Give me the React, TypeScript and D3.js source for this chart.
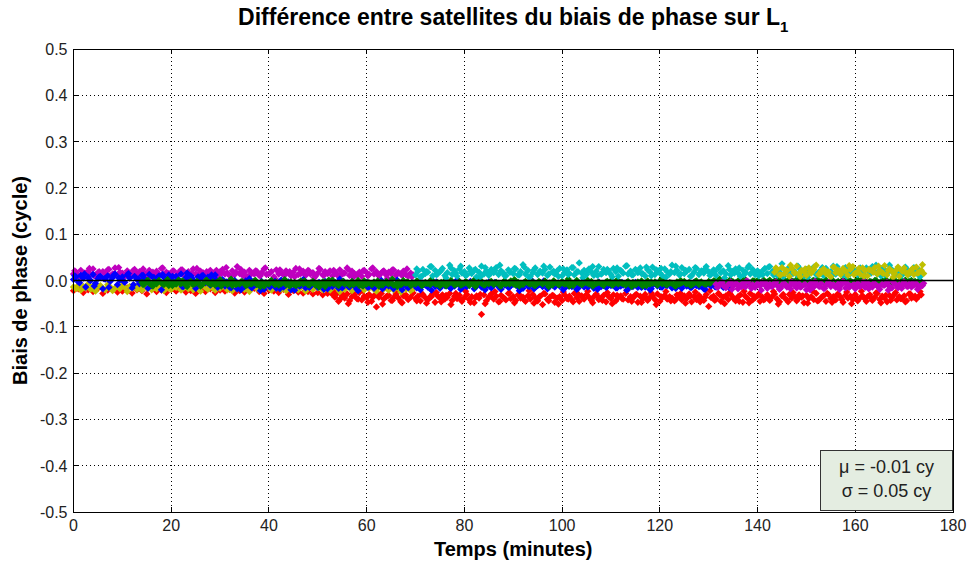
import React from "react";
import * as d3 from "d3";

const W = 971;
const H = 564;
const PLOT = { left: 73.5, right: 953, top: 49, bottom: 512 };

const xTicks = [0, 20, 40, 60, 80, 100, 120, 140, 160, 180];
const yTicks = [-0.5, -0.4, -0.3, -0.2, -0.1, 0, 0.1, 0.2, 0.3, 0.4, 0.5];
const yTickLabels = ["-0.5", "-0.4", "-0.3", "-0.2", "-0.1", "0.0", "0.1", "0.2", "0.3", "0.4", "0.5"];

const titleText = "Différence entre satellites du biais de phase sur L";
const titleSub = "1";
const xLabel = "Temps (minutes)";
const yLabel = "Biais de phase (cycle)";
const statsLines = ["\u03bc = -0.01 cy", "\u03c3 = 0.05 cy"];

// values in thousandths of a cycle; each series: start time (min), sampling step (min)
const magentaA = [
  14,18,11,22,9,16,20,13,25,12,17,8,19,15,23,10,14,27,12,18,
  16,9,21,14,11,24,15,19,7,17,13,22,16,10,20,14,26,12,18,15,
  11,21,9,17,23,13,16,19,10,25,14,12,20,17,8,15,22,13,18,11,
  19,24,14,16,10,21,13,30,15,12,18,9,22,16,14,20,11,17,25,13,
  15,19,8,23,14,17,12,21,16,10,18,26,13,15,20,11,22,14,17,9,
  16,24,12,19,15,21,10,18,13,23,14,16,27,11,20,15,12,18,9,22,
  17,13,25,14,19,10,16,21,12,18,15,23,11,17,14,20,13,9,16,12,
];
const magentaA2 = [
  21,6,16,26,10,19,4,24,13,28,8,17,22,11,25,5,18,14,27,9,
  20,12,23,7,16,26,11,19,5,22,15,28,9,18,24,6,13,21,10,27,
  17,4,23,12,19,8,25,15,20,6,26,11,18,22,9,16,24,7,14,21,
  10,27,13,19,5,23,16,11,25,8,
];
const redEarly = [
  -22,-18,-26,-20,-24,-17,-28,-21,-19,-25,-23,-16,-27,-20,-22,-29,-18,-24,-21,-26,
  -19,-23,-17,-25,-22,-28,-20,-24,-18,-26,-21,-23,-19,-27,-22,-25,-20,-17,-24,-28,
  -21,-23,-26,-19,-30,-22,-25,-27,-24,-29,-26,-31,-28,
];
const redLate = [
  -30,-36,-27,-41,-33,-38,-29,-44,-35,-31,-39,-26,-42,-34,-37,-30,-45,-33,-57,-36,
  -28,-40,-35,-32,-43,-37,-29,-38,-46,-33,-31,-41,-36,-27,-39,-34,-44,-30,-37,-42,
  -35,-29,-47,-33,-38,-31,-40,-36,-28,-43,-34,-39,-32,-45,-37,-30,-41,-35,-48,-33,
  -38,-73,-31,-44,-36,-29,-40,-34,-46,-32,-37,-42,-28,-39,-35,-43,-31,-38,-36,-45,
  -33,-40,-30,-37,-44,-34,-52,-29,-41,-36,-32,-47,-38,-35,-43,-31,-39,-34,-42,-28,
  -37,-45,-33,-40,-30,-36,-43,-35,-29,-41,-38,-32,-46,-34,-39,-31,-44,-36,-33,-40,
  -28,-42,-35,-38,-31,-47,-34,-39,-30,-43,-36,-33,-41,-29,-45,-37,-32,-40,-35,-38,
  -44,-31,-36,-42,-33,-39,-29,-46,-35,-41,-32,-38,-43,-30,-56,-37,-34,-40,-28,-45,
  -36,-33,-41,-30,-38,-44,-35,-31,-47,-34,-39,-28,-42,-37,-33,-45,-36,-40,-31,-43,
  -35,-29,-40,-46,-33,-37,-42,-30,-38,-34,-44,-31,-36,-48,-32,-39,-35,-41,-28,-43,
  -37,-33,-45,-30,-39,-35,-42,-29,-36,-47,-32,-38,-34,-41,-30,-44,-37,-33,-40,-35,
  -31,-43,-36,-28,-41,-34,-38,-46,-32,-37,-30,-42,-35,-39,-33,-44,-29,-38,-36,-40,
  -34,-31,
];
const redLate2 = [
  -24,-45,-31,-50,-27,-40,-22,-47,-36,-29,-51,-33,-43,-25,-48,-38,-21,-44,-30,-49,
  -35,-26,-46,-32,-52,-28,-41,-23,-47,-37,-30,-50,-34,-24,-45,-39,-27,-48,-31,-42,
  -22,-49,-36,-28,-44,-33,-51,-25,-40,-46,-29,-37,-23,-48,-34,-43,-26,-50,-32,-39,
  -21,-45,-30,-47,-38,-27,-52,-35,-24,-44,-41,-28,-49,-33,-25,-46,-36,-22,-43,-31,
  -50,-27,-39,-45,-23,-48,-34,-29,-42,-37,-24,-51,-30,-46,-26,-40,-33,-49,-22,-44,
  -35,-28,-47,-31,-41,-25,-50,-36,-23,-45,-38,-27,-48,-32,-43,-26,-39,-46,-29,-34,
  -24,
];
const yellowA = [
  -14,-18,-10,-21,-13,-16,-8,-19,-12,-23,-15,-11,-17,-20,-9,-14,-22,-16,-12,-18,
  -10,-15,-24,-13,-17,-11,-19,-14,-21,-8,-16,-12,-20,-15,-18,-13,-11,-22,-14,-17,
  -19,-12,-15,-9,-21,-16,-13,-18,-11,-20,-14,-17,-23,-10,-15,-19,-12,-16,-21,-13,
  -17,-11,-14,-20,-16,-22,-12,-18,-15,-10,-19,-13,-24,-16,-11,-17,-20,-14,-18,-12,
  -15,-21,-13,-17,-9,-19,-14,-22,-16,-11,-18,-13,-20,-15,-12,-23,-17,-10,-19,-14,
  -16,-12,-20,-18,-13,-21,-15,-11,-17,-24,-14,-19,-12,-16,-22,-13,-18,-15,-10,-20,
  -14,-17,-11,-19,-23,-15,-13,-18,-16,-21,-12,-20,-14,-17,-25,-13,-19,-15,-22,-18,
];
const blue = [
  2,8,-3,11,5,-14,7,0,13,-6,4,9,-18,3,10,-2,6,14,-9,1,
  8,-4,12,5,-16,9,2,-7,11,4,0,13,-11,6,3,10,-20,7,-1,12,
  5,-8,9,2,14,-13,6,-3,10,1,-17,8,4,11,-5,7,-10,3,12,-15,
  -6,2,-12,-4,-15,-8,0,-18,-10,-3,-13,-7,4,-16,-9,-5,-11,-2,-19,-8,
  -12,-4,-9,-17,-6,1,-14,-10,-3,-20,-8,-13,-5,-11,2,-16,-7,-12,-4,-9,
  -15,-6,-10,-2,-18,-8,-13,-5,-11,3,-16,-9,-7,-14,-3,-12,-19,-6,-10,-8,
  -4,-13,-9,-17,-6,-11,0,-15,-8,-12,-5,-18,-10,-7,-14,-3,-11,-16,-9,-6,
  -12,-8,-20,-5,-10,-14,-7,-2,-13,-9,-17,-6,-11,-4,-15,-8,-12,1,-10,-16,
  -7,-13,-9,-5,-18,-11,-6,-14,-8,-12,-3,-16,-10,-7,-13,-19,-5,-9,-15,-11,
  -8,-4,-14,-10,-17,-6,-12,-9,-2,-15,-11,-7,-13,-5,-18,-10,-8,-14,-6,-12,
  -9,-16,-5,-11,-13,-7,-19,-10,-4,-14,-8,-12,-6,-17,-10,-3,-13,-9,-15,-7,
  -11,-5,-16,-8,-12,-10,-6,-18,-9,-13,-4,-15,-7,-11,-14,-8,-20,-10,-6,-12,
  -9,-14,-7,-11,-5,-16,-10,-13,-8,-17,-6,-12,-9,-15,-4,-11,-13,-7,-18,-10,
  -8,-12,-6,-14,-10,-9,-15,-7,-11,-13,
];
const blue2 = [
  10,-5,14,1,-12,8,4,-15,12,6,-2,15,-9,3,11,-17,7,0,13,-6,
  9,2,-13,16,5,-8,10,-3,12,1,
  -11,-3,-16,-7,-20,-1,-13,-9,-22,-5,-14,-2,-18,-10,-6,-21,-12,0,-15,-8,
  -4,-19,-11,-7,-17,-2,-13,-9,-22,-6,-15,-11,-3,-18,-8,-14,1,-20,-10,-5,
  -16,-12,-7,-21,-3,-13,-9,-17,-6,-19,-11,-2,-15,-8,-20,-12,-4,-16,-10,-14,
  -7,-22,-5,-13,-18,-9,-1,-15,-11,-6,-20,-12,-8,-17,-3,-14,-10,-19,-6,-13,
  -9,-16,-4,-21,-11,-7,-15,-12,-18,-5,-14,-10,-8,-17,-13,
  -9,-15,-6,-12,-19,-8,-13,-4,-11,-16,
];
const green = [
  -4,-8,-1,-6,-10,-3,-7,0,-5,-9,-2,-11,-6,-4,-8,1,-7,-3,-10,-5,
  -2,-9,-6,-4,-12,-7,-1,-5,-8,-3,-10,-6,2,-7,-4,-9,-5,-11,-3,-6,
  -8,-2,-5,-10,-4,-7,-1,-9,-6,-3,-12,-5,-8,0,-6,-4,-10,-7,-2,-9,
  -5,-3,-8,-11,-6,-1,-7,-4,-9,-5,-2,-10,-6,-8,-3,-13,-5,-7,1,-4,
  -9,-6,-3,-8,-5,-10,-2,-7,-4,-11,-6,-1,-8,-5,-9,-3,-7,-12,-4,-6,
  -2,-8,-5,-10,-7,-3,-9,0,-6,-4,-11,-5,-8,-2,-7,-10,-4,-6,-9,-3,
  -7,-4,-12,-6,-1,-8,-5,-3,-10,-7,-2,-9,-6,-4,-11,-5,1,-8,-3,-6,
  -10,-5,-7,-2,-9,-4,-6,-12,-3,-8,-5,-1,-7,-10,-4,-6,-9,-2,-5,-8,
  -3,-11,-6,-4,-8,-1,-7,-5,-10,-3,-6,-9,-2,-8,-4,-12,-5,-7,0,-6,
  -9,-3,-5,-8,-2,-10,-6,-4,-7,-11,-3,-6,-1,-9,-5,-8,-4,-7,-10,-2,
  -6,-4,-9,-3,-7,-12,-5,-1,-8,-6,-3,-10,-4,-7,-2,-9,-5,-6,-11,-3,
  -8,-5,-2,-7,-4,-10,-6,-1,-9,-3,-6,-8,-2,-4,-1,-5,0,-3,-6,-2,
  -4,1,-3,-5,-1,-7,-2,2,-4,-6,-1,-3,0,-5,-2,-8,-3,1,-4,-1,
  -6,-2,-4,0,-3,-7,-1,-5,2,-3,-2,-6,-4,-1,-5,0,-3,-7,-2,-4,
  1,-5,-3,-1,-6,-2,-4,0,-3,-7,-1,-4,-2,2,-5,-3,-1,-6,-2,-4,
  0,-3,-5,-1,-4,-2,-6,1,-3,-5,-2,-1,-4,-7,-2,0,-3,-5,-1,-4,
];
const green2 = [
  -9,0,-12,-3,-7,2,-11,-5,-1,-13,-6,-2,-10,1,-8,-4,-12,-6,3,-9,
  -3,-11,-7,0,-13,-5,-2,-9,-6,2,-12,-4,-8,-1,-10,-5,-14,-3,1,-7,
  -11,-2,-6,-9,0,-12,-4,-8,-1,-10,-5,3,-13,-7,-3,-9,-1,-11,-6,2,
  -8,-4,-12,0,-7,-10,-2,-5,-13,1,-9,-3,-6,-11,-1,-8,2,-12,-4,-7,
  -10,-2,-5,-13,-1,-9,-6,3,-11,-3,-8,0,-12,-5,-7,-2,-10,1,-6,-4,
  -13,-8,-1,-11,-3,-7,2,-9,-5,-12,0,-6,-10,-2,-4,-8,-6,-1,3,-4,
  0,-6,-2,2,-5,-1,-7,1,-3,-4,3,-6,0,-2,-8,1,-5,-1,2,-3,
  -7,0,-4,-1,3,-5,-2,1,-6,-3,0,-4,2,-7,-1,-3,1,-5,-2,0,
];
const cyan = [
  12,20,8,24,15,18,30,10,22,14,19,26,11,17,33,13,21,9,25,16,
  19,12,27,15,22,8,18,31,14,20,11,24,17,28,13,21,16,10,23,18,
  15,25,12,19,34,14,22,9,17,27,13,20,16,24,11,29,18,14,21,26,
  10,17,23,15,28,12,19,38,16,22,13,25,18,11,20,30,14,24,17,21,
  13,26,19,9,22,16,31,14,20,12,24,17,27,15,10,23,18,29,13,21,
  16,11,25,19,14,33,17,22,12,28,15,20,24,10,18,26,13,21,16,30,
  19,14,23,11,27,17,21,15,32,12,20,25,16,9,22,18,28,14,24,13,
  21,17,12,26,15,30,19,23,11,18,36,14,22,16,25,20,13,27,17,10,
  24,15,20,29,13,18,22,11,26,16,19,31,14,23,17,12,28,20,15,25,
  18,13,27,21,10,24,16,30,19,14,22,26,12,17,33,20,15,23,18,11,
  17,25,14,20,28,16,23,19,
];
const cyan2 = [
  25,9,19,30,13,22,6,27,16,31,11,20,24,8,28,15,21,33,10,18,
  26,12,29,7,23,17,31,14,20,9,25,13,28,19,6,22,30,11,16,24,
  8,27,18,32,12,21,15,29,10,23,26,7,19,31,14,22,9,28,17,25,
  11,20,30,6,24,16,27,13,32,18,10,23,29,12,21,8,26,15,31,19,
  7,24,14,28,20,11,30,17,9,25,22,13,27,16,33,10,21,26,12,19,
  29,15,23,8,
];
const magentaB = [
  -8,-13,-5,-11,-16,-9,-3,-12,-7,-18,-10,-6,-14,-2,-11,-9,-15,-7,-12,-4,
  -10,-17,-8,-13,-5,-11,-19,-9,-6,-14,-12,-3,-10,-16,-7,-13,-9,-20,-11,-5,
  -14,-8,-12,-6,-17,-10,-4,-13,-9,-15,-7,-11,-2,-16,-8,-12,-10,-18,-6,-13,
  -9,-15,-5,-11,-14,-7,-12,-19,-8,-10,-4,-13,-16,-6,-11,-9,-17,-3,-12,-8,
  -14,-10,-7,-15,-11,-6,
];
const magentaB2 = [
  -15,-4,-11,-19,-7,-13,-1,-17,-9,-21,-6,-12,-3,-16,-10,-18,-5,-14,-8,-20,
  -2,-13,-17,-7,-11,-19,-4,-15,-9,-12,-1,-18,-6,-14,-10,-21,-3,-16,-8,-13,
  -5,-19,-11,
];
const yellowB = [
  18,24,12,28,15,21,9,26,17,31,14,22,19,11,27,16,23,33,13,20,
  25,15,19,8,29,17,22,13,26,20,11,24,30,16,18,14,27,21,10,23,
  19,28,14,22,17,32,12,25,20,15,24,9,21,27,16,18,23,13,29,17,
  22,15,
];
const yellowB2 = [
  27,12,22,33,16,8,25,19,30,14,23,10,28,17,21,32,13,26,9,24,
  18,31,15,22,7,29,20,12,26,16,34,
];

const seriesStart: Record<string, number> = {
  magentaA: 0, magentaA2: 0.25, redEarly: 0, redLate: 53, redLate2: 53.25, yellowA: 0,
  blue: 0, blue2: 0.25, green: 14, green2: 14.25, cyan: 70, cyan2: 70.25,
  magentaB: 131.5, magentaB2: 131.75, yellowB: 143.5, yellowB2: 143.75,
};
const seriesStep: Record<string, number> = {
  magentaA: 0.5, magentaA2: 1, redEarly: 1, redLate: 0.5, redLate2: 1, yellowA: 0.5,
  blue: 0.5, blue2: 1, green: 0.5, green2: 1, cyan: 0.5, cyan2: 1,
  magentaB: 0.5, magentaB2: 1, yellowB: 0.5, yellowB2: 1,
};
const seriesValues: Record<string, number[]> = {
  magentaA, magentaA2, redEarly, redLate, redLate2, yellowA, blue, blue2,
  green, green2, cyan, cyan2, magentaB, magentaB2, yellowB, yellowB2,
};
const drawOrder = [
  "magentaA", "magentaA2", "redEarly", "redLate", "redLate2", "yellowA", "blue", "blue2",
  "green", "green2", "cyan", "cyan2", "magentaB", "magentaB2", "yellowB", "yellowB2",
];
const seriesColor: Record<string, string> = {
  magentaA: "#bf00bf", magentaA2: "#bf00bf",
  redEarly: "#ff0000", redLate: "#ff0000", redLate2: "#ff0000",
  yellowA: "#bfbf00",
  blue: "#0000ff", blue2: "#0000ff",
  green: "#008000", green2: "#008000",
  cyan: "#00bfbf", cyan2: "#00bfbf",
  magentaB: "#bf00bf", magentaB2: "#bf00bf",
  yellowB: "#bfbf00", yellowB2: "#bfbf00",
};

const FONT = "'Liberation Sans', Arial, Helvetica, sans-serif";

export default function App() {
  const x = d3.scaleLinear().domain([0, 180]).range([PLOT.left, PLOT.right]);
  const y = d3.scaleLinear().domain([-0.5, 0.5]).range([PLOT.bottom, PLOT.top]);
  const diamond = d3.symbol().type(d3.symbolDiamond2).size(34)() as string;

  const points: { key: string; cx: number; cy: number; color: string }[] = [];
  drawOrder.forEach((name) => {
    const vals = seriesValues[name];
    const t0 = seriesStart[name];
    const dt = seriesStep[name];
    vals.forEach((v, i) => {
      points.push({ key: name + i, cx: x(t0 + i * dt), cy: y(v / 1000), color: seriesColor[name] });
    });
  });

  const tickLen = 5;
  const boxW = PLOT.right - 820;

  return (
    <svg width={W} height={H} style={{ position: "absolute", left: 0, top: 0, background: "#fff" }} fontFamily={FONT}>
      <rect x={0} y={0} width={W} height={H} fill="#fff" />
      <rect x={PLOT.left} y={PLOT.top} width={PLOT.right - PLOT.left} height={PLOT.bottom - PLOT.top} fill="#fff" />
      {xTicks.slice(1, -1).map((t) => (
        <line key={"gx" + t} x1={x(t)} x2={x(t)} y1={PLOT.top} y2={PLOT.bottom} stroke="#000" strokeWidth={1} strokeDasharray="1,3" shapeRendering="crispEdges" />
      ))}
      {yTicks.slice(1, -1).map((t) => (
        <line key={"gy" + t} x1={PLOT.left} x2={PLOT.right} y1={y(t)} y2={y(t)} stroke="#000" strokeWidth={1} strokeDasharray="1,3" shapeRendering="crispEdges" />
      ))}
      {points.map((p) => (
        <path key={p.key} d={diamond} transform={`translate(${p.cx},${p.cy})`} fill={p.color} />
      ))}
      <line x1={x(0)} x2={x(180)} y1={y(0)} y2={y(0)} stroke="#000" strokeWidth={1.5} />
      <rect x={PLOT.left} y={PLOT.top} width={PLOT.right - PLOT.left} height={PLOT.bottom - PLOT.top} fill="none" stroke="#000" strokeWidth={1} shapeRendering="crispEdges" />
      {xTicks.map((t) => (
        <g key={"tx" + t}>
          <line x1={x(t)} x2={x(t)} y1={PLOT.bottom} y2={PLOT.bottom - tickLen} stroke="#000" shapeRendering="crispEdges" />
          <line x1={x(t)} x2={x(t)} y1={PLOT.top} y2={PLOT.top + tickLen} stroke="#000" shapeRendering="crispEdges" />
          <text x={x(t)} y={PLOT.bottom + 19} textAnchor="middle" fontSize={16} fill="#222">{t}</text>
        </g>
      ))}
      {yTicks.map((t, i) => (
        <g key={"ty" + t}>
          <line x1={PLOT.left} x2={PLOT.left + tickLen} y1={y(t)} y2={y(t)} stroke="#000" shapeRendering="crispEdges" />
          <line x1={PLOT.right} x2={PLOT.right - tickLen} y1={y(t)} y2={y(t)} stroke="#000" shapeRendering="crispEdges" />
          <text x={PLOT.left - 6} y={y(t) + 6} textAnchor="end" fontSize={16} fill="#222">{yTickLabels[i]}</text>
        </g>
      ))}
      <text x={(PLOT.left + PLOT.right) / 2} y={25} textAnchor="middle" fontSize={23} fontWeight="bold" fill="#000">
        {titleText}
        <tspan fontSize={15} dy={7}>{titleSub}</tspan>
      </text>
      <text x={(PLOT.left + PLOT.right) / 2} y={556} textAnchor="middle" fontSize={20} fontWeight="bold" fill="#000">{xLabel}</text>
      <text transform={`translate(27,${(PLOT.top + PLOT.bottom) / 2}) rotate(-90)`} textAnchor="middle" fontSize={20} fontWeight="bold" fill="#000">{yLabel}</text>
      <rect x={820.5} y={450.5} width={boxW - 1} height={60} fill="#e4ede1" stroke="#333" strokeWidth={1} />
      <text x={820 + boxW / 2} y={473} textAnchor="middle" fontSize={18} fill="#222">{statsLines[0]}</text>
      <text x={820 + boxW / 2} y={497} textAnchor="middle" fontSize={18} fill="#222">{statsLines[1]}</text>
    </svg>
  );
}
